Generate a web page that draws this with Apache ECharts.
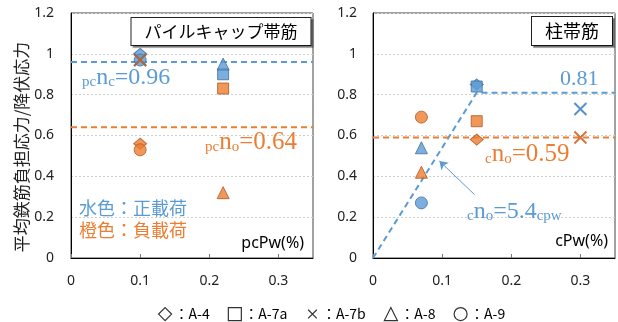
<!DOCTYPE html>
<html>
<head>
<meta charset="utf-8">
<script src="https://cdn.jsdelivr.net/npm/echarts@6/dist/echarts.min.js"></script>
<style>html,body{margin:0;padding:0;background:#fff;}#c{width:618px;height:322px;}</style>
</head>
<body>
<div id="c"></div>
<script>
// ---- data ----
const specimens = ['A-4', 'A-7a', 'A-7b', 'A-8', 'A-9'];
const symbolsOf = ['diamond', 'rect', 'cross', 'triangle', 'circle'];
// pile-cap hoops (left panel)
const pcPw = [0.1, 0.22, 0.1, 0.22, 0.1];
const pcPositive = [1.00, 0.90, 0.97, 0.95, 0.97];
const pcNegative = [0.56, 0.83, 0.97, 0.32, 0.53];
// column hoops (right panel)
const cPw = [0.15, 0.15, 0.30, 0.07, 0.07];
const cPositive = [0.85, 0.84, 0.73, 0.54, 0.27];
const cNegative = [0.58, 0.67, 0.59, 0.42, 0.69];
// design lines
const pcncLine = [[0, 0.96], [0.35, 0.96]];
const pcnoLine = [[0, 0.64], [0.35, 0.64]];
const cncLine = [[0, 0], [0.15, 0.81], [0.35, 0.81]];
const cnoLine = [[0, 0.59], [0.35, 0.59]];
const arrowFrom = [0.147, 0.31];
const arrowTo = [0.096, 0.475];
const xTicks = [0, 0.1, 0.2, 0.3];
const yTicks = [0, 0.2, 0.4, 0.6, 0.8, 1, 1.2];

// ---- styles ----
const BLUE = '#5B9BD5', BLUE_D = '#41719C', BLUE_X = '#2E75B6';
const ORANGE = '#ED7D31', ORANGE_D = '#AE5A21', ORANGE_X = '#C55A11';
const X_PATH = 'path://M0,0L10,10M10,0L0,10';
const X_LEGEND = 'path://M-2.5,-2.5L-2.5,-2.5M12.5,12.5L12.5,12.5M0,0L10,10M10,0L0,10';
const sizes = {diamond: [13, 11], rect: 11, cross: 12, triangle: [12, 12], circle: 12};

function scatter(name, sym, x, y, gi, pos) {
  const isX = sym === 'cross';
  return {
    type: 'scatter', name: name, xAxisIndex: gi, yAxisIndex: gi, z: pos ? 3 : 4,
    symbol: isX ? X_PATH : sym,
    symbolSize: sizes[sym],
    itemStyle: isX
      ? {color: 'none', borderColor: pos ? BLUE_X : ORANGE_X, borderWidth: 2}
      : {color: pos ? BLUE : ORANGE, borderColor: pos ? BLUE_D : ORANGE_D, borderWidth: 1},
    emphasis: {disabled: true},
    data: [[x, y]]
  };
}
const series = [];
function dashed(data, color, gi, extra) {
  return Object.assign({
    type: 'line', xAxisIndex: gi, yAxisIndex: gi, data: data, symbol: 'none', z: 2,
    lineStyle: {color: color, width: 2, type: [6, 4]}, silent: true
  }, extra || {});
}
series.push(dashed(pcncLine, BLUE, 0));
series.push(dashed(pcnoLine, ORANGE, 0));
series.push(dashed(cncLine, BLUE, 1, {
  markLine: {
    silent: true, symbol: ['none', 'arrow'], symbolSize: 8,
    label: {show: false},
    lineStyle: {color: BLUE, width: 1, type: 'solid'},
    data: [[{coord: arrowFrom}, {coord: arrowTo}]]
  }
}));
series.push(dashed(cnoLine, ORANGE, 1));
// positive (blue) first, then negative (orange)
specimens.forEach((s, i) => series.push(scatter(s, symbolsOf[i], pcPw[i], pcPositive[i], 0, true)));
specimens.forEach((s, i) => series.push(scatter(s, symbolsOf[i], cPw[i], cPositive[i], 1, true)));
specimens.forEach((s, i) => series.push(scatter(s, symbolsOf[i], pcPw[i], pcNegative[i], 0, false)));
specimens.forEach((s, i) => series.push(scatter(s, symbolsOf[i], cPw[i], cNegative[i], 1, false)));

const axisFont = {fontFamily: 'Noto Sans', fontSize: 14, color: '#222'};
function xAxis(gi) {
  return {
    type: 'value', gridIndex: gi, min: 0, max: 0.35, interval: 0.1,
    axisLine: {show: true, onZero: false, lineStyle: {color: '#000', width: 1}},
    axisTick: {show: true, inside: true, length: 4, lineStyle: {color: '#777'}},
    splitLine: {show: false},
    axisLabel: Object.assign({margin: 16, showMaxLabel: false,
      formatter: v => (xTicks.some(t => Math.abs(t - v) < 1e-9) ? String(+v.toFixed(2)) : '')}, axisFont)
  };
}
function yAxis(gi, margin) {
  return {
    type: 'value', gridIndex: gi, min: 0, max: 1.2, interval: 0.2,
    axisLine: {show: true, lineStyle: {color: '#000', width: 1}},
    axisTick: {show: false},
    splitLine: {show: true, lineStyle: {color: '#d0d0d0', type: [2, 2], width: 1}},
    axisLabel: Object.assign({margin: margin,
      formatter: v => (yTicks.some(t => Math.abs(t - v) < 1e-9) ? String(+v.toFixed(1)) : '')}, axisFont)
  };
}

const serif = 'Liberation Serif';
function sub(fs) { return {fontSize: fs, fontFamily: serif, lineHeight: fs - 4, verticalAlign: 'bottom'}; }
function big(fs) { return {fontSize: fs, fontFamily: serif, lineHeight: fs, verticalAlign: 'bottom'}; }
function label(x, y, text, color, bs, ss) {
  return {
    type: 'text', left: x, top: y, z: 50,
    style: {text: text, fill: color, rich: {s: Object.assign(sub(ss), {fill: color}), b: Object.assign(big(bs), {fill: color})}}
  };
}
const jp = 'Noto Sans CJK JP';
function boxText(cx, cy, text, fs) {
  return {
    type: 'text', x: cx, y: cy, z: 50,
    style: {
      text: text, fill: '#000', font: fs + 'px "' + jp + '"', align: 'center', verticalAlign: 'middle',
      backgroundColor: '#fff', borderColor: '#222', borderWidth: 1,
      padding: [5, 13, 5, 13],
      shadowColor: 'rgba(0,0,0,0.35)', shadowOffsetX: 2, shadowOffsetY: 2, shadowBlur: 1
    }
  };
}
function plain(x, y, text, color, font, align) {
  return {type: 'text', x: x, y: y, z: 50,
    style: {text: text, fill: color, font: font, align: align || 'left', verticalAlign: 'middle'}};
}

const option = {
  animation: false,
  backgroundColor: '#fff',
  grid: [
    {left: 71, top: 13, width: 242, height: 245, show: true, borderColor: '#444', borderWidth: 1, backgroundColor: 'transparent'},
    {left: 373, top: 13, width: 242, height: 245, show: true, borderColor: '#444', borderWidth: 1, backgroundColor: 'transparent'}
  ],
  xAxis: [xAxis(0), xAxis(1)],
  yAxis: [yAxis(0, 17), yAxis(1, 16)],
  legend: {
    left: 153, top: 302, itemGap: 18, itemWidth: 13, itemHeight: 13, selectedMode: false,
    itemStyle: {color: '#fff', borderColor: '#000', borderWidth: 1.2},
    textStyle: {fontFamily: jp, fontSize: 14, color: '#000', padding: [0, 0, 0, -2]},
    formatter: '：{name}',
    data: [
      {name: 'A-4', icon: 'diamond'},
      {name: 'A-7a', icon: 'rect'},
      {name: 'A-7b', icon: X_LEGEND},
      {name: 'A-8', icon: 'triangle'},
      {name: 'A-9', icon: 'circle'}
    ]
  },
  graphic: [
    boxText(221, 31.5, 'パイルキャップ帯筋', 17),
    boxText(572, 31, '柱帯筋', 18),
    label(82, 66, '{s|pc}{b|n}{s|c}{b|=0.96}', BLUE, 24, 15),
    label(205, 130, '{s|pc}{b|n}{s|o}{b|=0.64}', ORANGE, 25, 15),
    label(560, 68, '{b|0.81}', BLUE, 22, 15),
    label(485, 142, '{s|c}{b|n}{s|o}{b|=0.59}', ORANGE, 25, 15),
    label(467, 200, '{s|c}{b|n}{s|o}{b|=5.4}{s|cpw}', BLUE, 24, 15),
    plain(79, 208, '水色：正載荷', BLUE, '18px "' + jp + '"'),
    plain(79, 230, '橙色：負載荷', ORANGE, '18px "' + jp + '"'),
    plain(304, 243, 'pcPw(%)', '#000', '16px "Noto Sans"', 'right'),
    plain(608, 241, 'cPw(%)', '#000', '16px "Noto Sans"', 'right'),
    {type: 'text', x: 22, y: 147, rotation: Math.PI / 2, z: 50,
      style: {text: '平均鉄筋負担応力/降伏応力', fill: '#222', font: '17px "' + jp + '"', align: 'center', verticalAlign: 'middle'}}
  ],
  series: series
};
const chart = echarts.init(document.getElementById('c'), null, {renderer: 'canvas'});
chart.setOption(option);
</script>
</body>
</html>
